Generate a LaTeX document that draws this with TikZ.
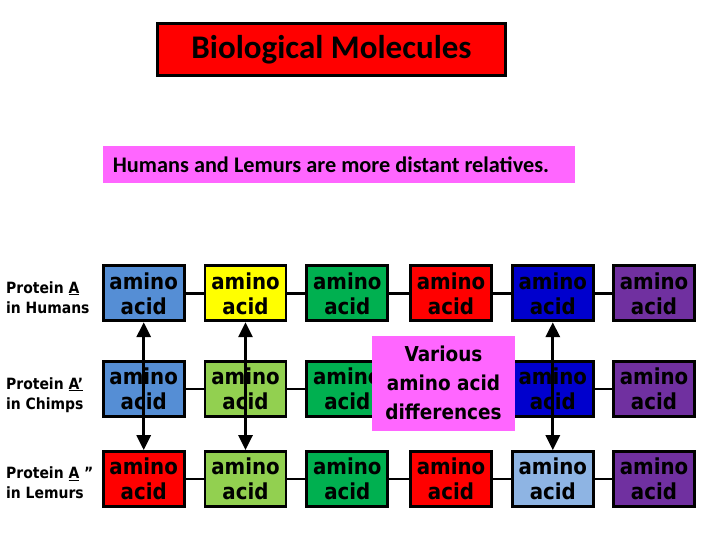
\documentclass[tikz,border=0pt]{standalone}
\usepackage{fontspec}
\setmainfont{Carlito}
\newfontfamily\boxfont{DejaVu Sans Condensed}
\usetikzlibrary{arrows.meta}
\definecolor{cblue}{RGB}{85,142,213}
\definecolor{dblue}{RGB}{0,0,205}
\definecolor{lblue}{RGB}{142,180,227}
\definecolor{cgreen}{RGB}{0,176,80}
\definecolor{lgreen}{RGB}{146,208,80}
\definecolor{cpurple}{RGB}{112,48,160}
\definecolor{cred}{RGB}{255,0,0}
\definecolor{cyellow}{RGB}{255,255,0}
\definecolor{cpink}{RGB}{255,102,255}
\begin{document}
\begin{tikzpicture}[x=1bp,y=-1bp,
  aa/.style={draw=black, line width=2.8bp, minimum width=81bp, minimum height=55bp,
    inner sep=0pt, align=center, font=\boxfont\bfseries\fontsize{22bp}{25bp}\selectfont},
  link/.style={line width=2.5bp},
  dbl/.style={line width=3bp, {Triangle[width=14bp,length=15bp]}-{Triangle[width=14bp,length=15bp]}},
  lbl/.style={anchor=west, inner sep=0pt, align=left,
    font=\boxfont\bfseries\fontsize{15.5bp}{20bp}\selectfont}]
\path[use as bounding box, fill=white] (0,0) rectangle (720,540);

% title
\node[draw=black, line width=3bp, fill=cred, minimum width=348bp, minimum height=52bp,
  inner sep=0pt, font=\bfseries\fontsize{33bp}{36bp}\selectfont] (title) at (331.5,49.5)
  {Biological Molecules};

% subtitle
\node[fill=cpink, minimum width=472bp, minimum height=37bp, inner sep=0pt]
  (sub) at (339,164.5) {};
\node[anchor=west, inner sep=0pt, font=\bfseries\fontsize{22.3bp}{24bp}\selectfont]
  (subtext) at (112.7,164.5) {Humans and Lemurs are more distant relatives.};

% labels
\node[lbl] (l1) at (6,297.5) {Protein \underline{A}\\in Humans};
\node[lbl] (l2) at (6,395) {Protein \underline{A’}\\in Chimps};
\node[lbl] (l3) at (6,483) {Protein \underline{A}~”\\in Lemurs};

% row 1
\node[aa, fill=cblue]   (r1c1) at (143.7,293.3) {amino\\acid};
\node[aa, fill=cyellow] (r1c2) at (245.5,293.3) {amino\\acid};
\node[aa, fill=cgreen]  (r1c3) at (347.3,293.3) {amino\\acid};
\node[aa, fill=cred]    (r1c4) at (451.0,293.3) {amino\\acid};
\node[aa, fill=dblue]   (r1c5) at (552.8,293.3) {amino\\acid};
\node[aa, fill=cpurple] (r1c6) at (654.0,293.3) {amino\\acid};
% row 2
\node[aa, fill=cblue]   (r2c1) at (143.7,389) {amino\\acid};
\node[aa, fill=lgreen]  (r2c2) at (245.5,389) {amino\\acid};
\node[aa, fill=cgreen]  (r2c3) at (347.3,389) {amino\\acid};
\node[aa, fill=dblue]   (r2c5) at (552.8,389) {amino\\acid};
\node[aa, fill=cpurple] (r2c6) at (654.0,389) {amino\\acid};
% row 3
\node[aa, fill=cred]    (r3c1) at (143.7,479) {amino\\acid};
\node[aa, fill=lgreen]  (r3c2) at (245.5,479) {amino\\acid};
\node[aa, fill=cgreen]  (r3c3) at (347.3,479) {amino\\acid};
\node[aa, fill=cred]    (r3c4) at (451.0,479) {amino\\acid};
\node[aa, fill=lblue]   (r3c5) at (552.8,479) {amino\\acid};
\node[aa, fill=cpurple] (r3c6) at (654.0,479) {amino\\acid};

% links
\foreach \a/\b in {r1c1/r1c2,r1c2/r1c3,r1c3/r1c4,r1c4/r1c5,r1c5/r1c6,
                   r2c1/r2c2,r2c2/r2c3,r2c5/r2c6,
                   r3c1/r3c2,r3c2/r3c3,r3c3/r3c4,r3c4/r3c5,r3c5/r3c6}
  \draw[link] (\a.east) -- (\b.west);

% differences box
\node[fill=cpink, minimum width=143bp, minimum height=95bp, inner sep=0pt, align=center,
  font=\boxfont\bfseries\fontsize{20.5bp}{29bp}\selectfont] (diff) at (443.5,383.3)
  {Various\\amino acid\\differences};

% arrows
\draw[dbl] (r1c1.south) -- (r3c1.north);
\draw[dbl] (r1c2.south) -- (r3c2.north);
\draw[dbl] (r1c5.south) -- (r3c5.north);
\end{tikzpicture}
\end{document}
